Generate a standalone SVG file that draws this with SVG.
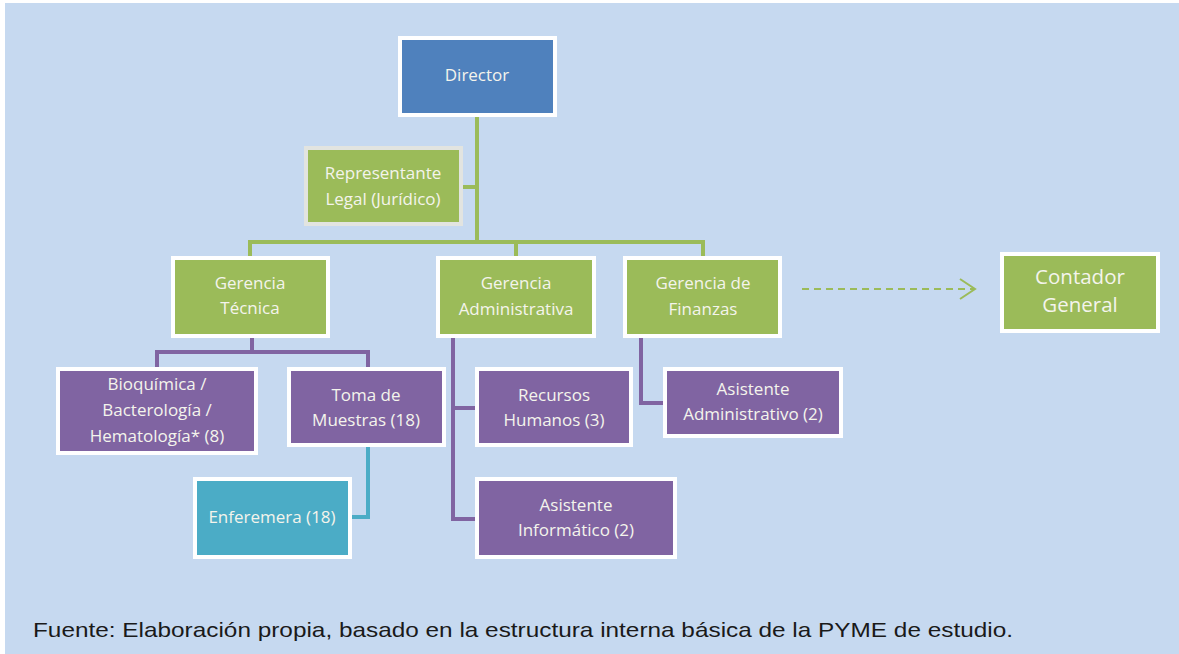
<svg xmlns="http://www.w3.org/2000/svg" width="1179" height="654" viewBox="0 0 1179 654">
<style>
.box{stroke:#ffffff;stroke-width:4}
.g{fill:#9bbb59}.b{fill:#4f81bd}.p{fill:#8064a2}.t{fill:#4bacc6}
.lbl{font-family:"Open Sans","Noto Sans",sans-serif;font-size:17px;fill:#f4f4ec;text-anchor:middle}
.big{font-size:20.5px}
.lg{stroke:#9bbb59;stroke-width:4;fill:none}
.lp{stroke:#8064a2;stroke-width:4;fill:none}
.lt{stroke:#4bacc6;stroke-width:4;fill:none}
</style>
<defs>
<marker id="chev" markerWidth="20" markerHeight="24" refX="17" refY="12" orient="auto" markerUnits="userSpaceOnUse">
<path d="M2,2 L17,12 L2,22" fill="none" stroke="#9bbb59" stroke-width="2"/>
</marker>
</defs>
<rect x="5" y="3" width="1174" height="651" fill="#c6d9f0"/>
<g id="connectors">
<path class="lg" d="M477,117 V242"/>
<path class="lg" d="M463,187 H477"/>
<path class="lg" d="M250,256 V242 H703 V256"/>
<path class="lg" d="M516,242 V256"/>
<path class="lp" d="M252,338 V352"/>
<path class="lp" d="M157,367 V352 H368 V367"/>
<path class="lt" d="M368,447 V517 H352"/>
<path class="lp" d="M453,338 V519 H475"/>
<path class="lp" d="M453,408 H475"/>
<path class="lp" d="M641,338 V403 H663"/>
<path d="M802,289 H975" stroke="#9bbb59" stroke-width="2" stroke-dasharray="7,5" fill="none" marker-end="url(#chev)"/>
</g>
<g id="director"><rect class="box b" x="400" y="38" width="155" height="77"/><text class="lbl" x="477" y="81">Director</text></g>
<g id="representante"><rect class="g" x="306" y="148" width="155" height="76" stroke="#e2e4e0" stroke-width="4"/><text class="lbl" x="383" y="179">Representante</text><text class="lbl" x="383" y="205">Legal (Jurídico)</text></g>
<g id="gerencia-tecnica"><rect class="box g" x="173" y="258" width="155" height="78"/><text class="lbl" x="250" y="289">Gerencia</text><text class="lbl" x="250" y="314">Técnica</text></g>
<g id="gerencia-administrativa"><rect class="box g" x="438" y="258" width="156" height="78"/><text class="lbl" x="516" y="289">Gerencia</text><text class="lbl" x="516" y="315">Administrativa</text></g>
<g id="gerencia-finanzas"><rect class="box g" x="625" y="258" width="155" height="78"/><text class="lbl" x="703" y="289">Gerencia de</text><text class="lbl" x="703" y="315">Finanzas</text></g>
<g id="contador"><rect class="box g" x="1002" y="254" width="156" height="77"/><text class="lbl big" x="1080" y="284">Contador</text><text class="lbl big" x="1080" y="312">General</text></g>
<g id="bioquimica"><rect class="box p" x="58" y="369" width="198" height="84"/><text class="lbl" x="157" y="390">Bioquímica  /</text><text class="lbl" x="157" y="416">Bacterología /</text><text class="lbl" x="157" y="442">Hematología* (8)</text></g>
<g id="toma-muestras"><rect class="box p" x="289" y="369" width="155" height="76"/><text class="lbl" x="366" y="401">Toma de</text><text class="lbl" x="366" y="426">Muestras (18)</text></g>
<g id="enferemera"><rect class="box t" x="195" y="479" width="155" height="78"/><text class="lbl" x="272" y="523">Enferemera (18)</text></g>
<g id="recursos-humanos"><rect class="box p" x="477" y="369" width="154" height="76"/><text class="lbl" x="554" y="401">Recursos</text><text class="lbl" x="554" y="426">Humanos (3)</text></g>
<g id="asistente-informatico"><rect class="box p" x="477" y="479" width="198" height="78"/><text class="lbl" x="576" y="511">Asistente</text><text class="lbl" x="576" y="536">Informático (2)</text></g>
<g id="asistente-administrativo"><rect class="box p" x="665" y="369" width="176" height="67"/><text class="lbl" x="753" y="395">Asistente</text><text class="lbl" x="753" y="420">Administrativo (2)</text></g>
<text x="33" y="637" font-family="Liberation Sans, Arial, sans-serif" font-size="21" fill="#1a1a1a" textLength="980" lengthAdjust="spacingAndGlyphs">Fuente: Elaboración propia, basado en la estructura interna básica de la PYME de estudio.</text>
</svg>
